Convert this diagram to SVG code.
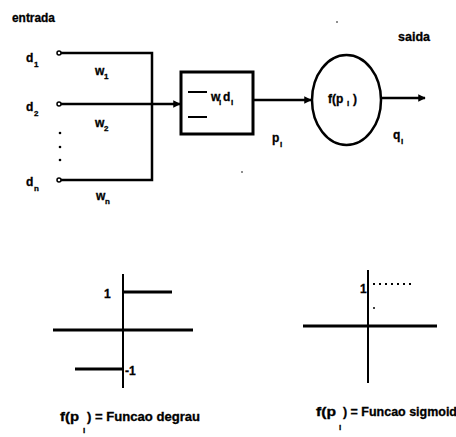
<svg xmlns="http://www.w3.org/2000/svg" width="456" height="437" viewBox="0 0 456 437">
<style>
text{font-family:"Liberation Sans","DejaVu Sans",sans-serif;font-weight:bold;fill:#000;stroke:#000;stroke-width:0.3}
.t{font-size:12px}
.s{font-size:8px}
.ln{stroke:#000;stroke-width:2.5;fill:none}
.ax{stroke:#000;stroke-width:3;fill:none}
.th{stroke:#000;stroke-width:2;fill:none}
</style>
<defs>
<marker id="ah" viewBox="0 0 10 10" refX="9" refY="5" markerWidth="3" markerHeight="3" orient="auto">
<path d="M0,0 L10,5 L0,10 z" fill="#000"/>
</marker>
</defs>
<rect width="456" height="437" fill="#fff"/>
<g id="labels">
<text class="t" x="12" y="22" textLength="43" lengthAdjust="spacingAndGlyphs">entrada</text>
<text class="t" x="398" y="41" textLength="32" lengthAdjust="spacingAndGlyphs">saida</text>
</g>
<g id="input-d1">
<text class="t" x="26" y="62">d</text><text class="s" x="34" y="67">1</text>
<circle cx="59" cy="53" r="2" fill="#fff" stroke="#000" stroke-width="1.5"/>
</g>
<g id="input-d2">
<text class="t" x="26" y="111">d</text><text class="s" x="34" y="116">2</text>
<circle cx="59" cy="104" r="2" fill="#fff" stroke="#000" stroke-width="1.5"/>
</g>
<g id="input-dots">
<circle cx="60" cy="133" r="1.3" fill="#000"/>
<circle cx="60" cy="147" r="1.3" fill="#000"/>
<circle cx="60" cy="160" r="1.3" fill="#000"/>
</g>
<g id="input-dn">
<text class="t" x="26" y="186">d</text><text class="s" x="34" y="191">n</text>
<circle cx="59" cy="180" r="2" fill="#fff" stroke="#000" stroke-width="1.5"/>
</g>
<g id="summation">
<rect x="181" y="72" width="72" height="62" class="ax"/>
<line x1="188" y1="92" x2="207" y2="92" class="th"/>
<line x1="188" y1="117" x2="207" y2="117" class="th"/>
<text class="t" x="211" y="101">w</text><text class="s" x="219" y="105">i</text>
<text class="t" x="223" y="101">d</text><text class="s" x="231" y="105">i</text>
</g>
<g id="activation">
<ellipse cx="346.5" cy="100" rx="34.5" ry="45" class="ln"/>
<text class="t" x="328" y="103">f(p</text><text class="s" x="347" y="106">i</text><text class="t" x="353" y="103">)</text>
</g>
<g id="connectors">
<polyline points="61,53 152,53 152,180 61,180" class="ln"/>
<line x1="61" y1="104" x2="180" y2="104" class="ln" marker-end="url(#ah)"/>
<line x1="254" y1="100" x2="311" y2="100" class="ln" marker-end="url(#ah)"/>
<line x1="381" y1="98" x2="425" y2="98" class="ln" marker-end="url(#ah)"/>
<text class="t" x="95" y="75">w</text><text class="s" x="104" y="79">1</text>
<text class="t" x="95" y="127">w</text><text class="s" x="104" y="131">2</text>
<text class="t" x="96" y="200">w</text><text class="s" x="105" y="204">n</text>
<text class="t" x="272" y="142">p</text><text class="s" x="280" y="147">i</text>
<text class="t" x="393" y="139">q</text><text class="s" x="401" y="144">i</text>
</g>
<g id="step-graph">
<line x1="123" y1="274" x2="123" y2="388" class="th"/>
<line x1="53" y1="330" x2="193" y2="330" class="ax"/>
<line x1="123" y1="292" x2="172" y2="292" class="ax"/>
<line x1="75" y1="369" x2="123" y2="369" class="ax"/>
<text class="t" x="104" y="298">1</text>
<text class="t" x="125" y="375">-1</text>
<text class="t" x="60" y="421" textLength="19" lengthAdjust="spacingAndGlyphs">f(p</text><text class="s" x="83" y="433">i</text>
<text class="t" x="87" y="421" textLength="113" lengthAdjust="spacingAndGlyphs">) = Funcao degrau</text>
</g>
<g id="sigmoid-graph">
<line x1="368" y1="270" x2="368" y2="383" class="th"/>
<line x1="303" y1="326" x2="437" y2="326" class="ax"/>
<line x1="373" y1="284" x2="413" y2="284" stroke="#000" stroke-width="2" stroke-dasharray="2,4"/>
<text class="t" x="360" y="293">1</text>
<circle cx="374" cy="308" r="1" fill="#000"/>
<text class="t" x="316" y="416" textLength="20" lengthAdjust="spacingAndGlyphs">f(p</text><text class="s" x="339" y="430">i</text>
<text class="t" x="343" y="416" textLength="114" lengthAdjust="spacingAndGlyphs">) = Funcao sigmoid</text>
</g>
<g id="specks">
<circle cx="337" cy="22" r="0.8" fill="#000"/>
<circle cx="242" cy="172" r="0.8" fill="#000"/>
</g>
</svg>
